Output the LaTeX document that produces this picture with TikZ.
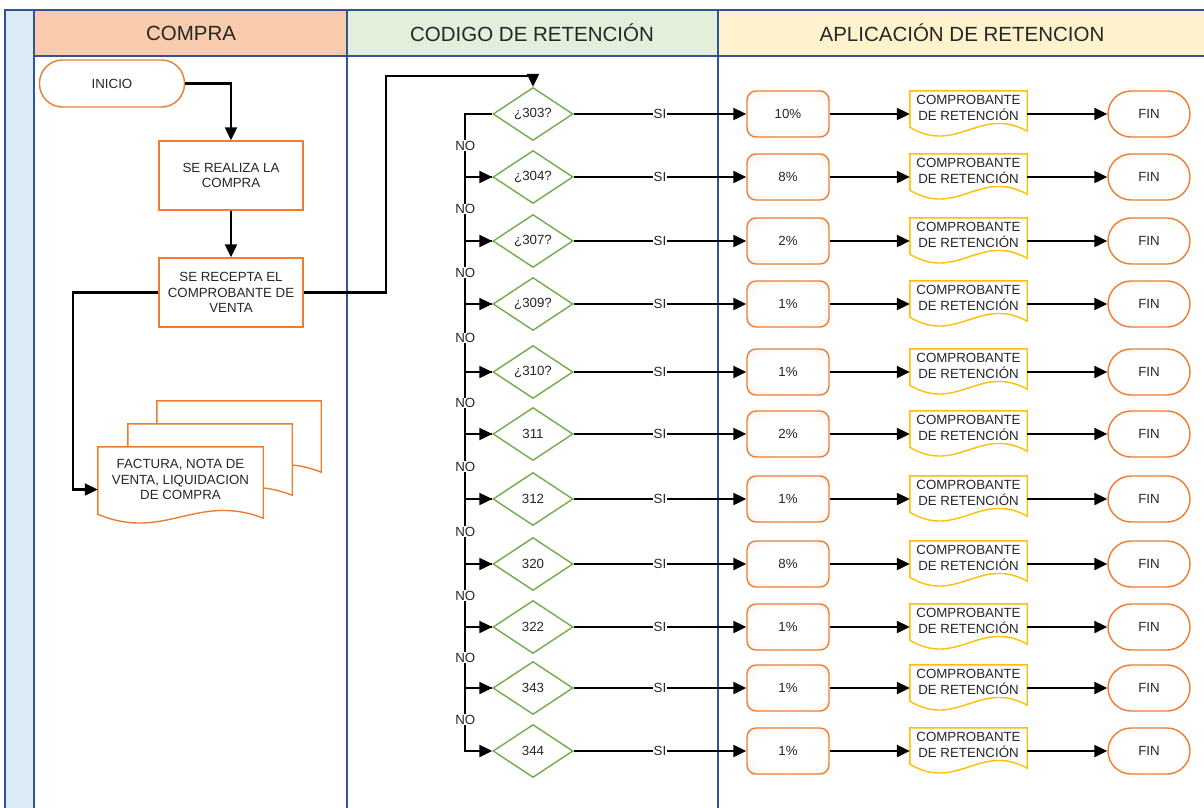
\documentclass[tikz,border=0pt]{standalone}
\usepackage{fontspec}
\setmainfont{Liberation Sans}
\usetikzlibrary{positioning, calc, shapes.geometric, arrows.meta}
\definecolor{lane blue}{HTML}{2F5597}
\definecolor{strip blue}{HTML}{DDEBF7}
\definecolor{compra head}{HTML}{F8CBAD}
\definecolor{codigo head}{HTML}{E2EFDA}
\definecolor{aplica head}{HTML}{FFF2CC}
\definecolor{box orange}{HTML}{ED7D31}
\definecolor{box pink}{HTML}{FBE2D4}
\definecolor{doc yellow}{HTML}{FFC000}
\definecolor{diamond green}{HTML}{70AD47}
\pgfdeclareradialshading{soft pink}{\pgfpoint{0bp}{0bp}}{color(0bp)=(white); color(22bp)=(white); color(50bp)=(box pink); color(72bp)=(box pink)}
\tikzset{lane/.style={line width=1.2pt, lane blue}}
\tikzset{flow/.style={line width=2.2pt, -{Triangle[length=13pt, width=12pt]}}}
\tikzset{txt/.style={font=\fontsize{13.3}{15.5}\selectfont, align=center, text=black!85}}
\tikzset{headtxt/.style={font=\fontsize{20.5}{22}\selectfont, text=black!85}}
\tikzset{process/.style={txt, draw=box orange, line width=1.4pt, fill=white, minimum width=144pt, minimum height=69pt, inner sep=0}}
\tikzset{terminal/.style={txt, draw=box orange, line width=1.4pt, rounded corners=23pt, shading=soft pink, minimum width=82pt, minimum height=46pt}}
\tikzset{pctbox/.style={txt, draw=box orange, line width=1.4pt, rounded corners=9pt, shading=soft pink, minimum width=82pt, minimum height=46pt}}
\tikzset{decision/.style={txt, diamond, draw=diamond green, line width=1.4pt, fill=white, minimum width=80pt, minimum height=53pt, inner sep=0}}
\tikzset{docnode/.style={txt, fill=white, inner sep=0, minimum height=34pt}}
\tikzset{docline/.style={line width=1.4pt}}
\tikzset{lbl/.style={txt, fill=white, inner sep=0.5pt}}

% outline of a document shape round a node
\newcommand{\docwave}[2]{%
  \draw[docline, #2] ($(#1.south west)+(0,2)$) -- (#1.north west) -- (#1.north east)
    -- ($(#1.south east)+(0,6)$)
    .. controls ($(#1.south east)!0.4!(#1.south west)+(0,-20)$)
    and ($(#1.south west)!0.4!(#1.south east)+(0,30)$) .. ($(#1.south west)+(0,2)$) -- cycle;}

\begin{document}
\begin{tikzpicture}[x=1pt, y=-1pt]
\useasboundingbox (0,0) rectangle (1204,807);

% swimlanes
\draw[lane, fill=strip blue] (5,10) rectangle (34,812);
\draw[lane, fill=compra head] (34,10) rectangle (347,56);
\draw[lane, fill=codigo head] (347,10) rectangle (718,56);
\draw[lane, fill=aplica head] (718,10) rectangle (1210,56);
\draw[lane] (347,56) -- (347,812);
\draw[lane] (718,56) -- (718,812);
\node[headtxt] (head compra) at (191,33) {COMPRA};
\node[headtxt] (head codigo) at (532,33) {CODIGO DE RETENCIÓN};
\node[headtxt] (head aplica) at (962,33) {APLICACIÓN DE RETENCION};

% compra
\node[txt, draw=box orange, line width=1.4pt, rounded corners=23pt, fill=white, minimum width=145pt, minimum height=47pt] (inicio) at (112,83.5) {INICIO};
\node[process] (realiza) at (231,175.5) {SE REALIZA LA\\COMPRA};
\node[process] (recepta) at (231,292.5) {SE RECEPTA EL\\COMPROBANTE DE\\VENTA};

\node[docnode, minimum width=164pt, minimum height=65pt] (copia2) at (239,433.5) {};
\docwave{copia2}{box orange}
\node[docnode, minimum width=164pt, minimum height=65pt] (copia1) at (210,456.5) {};
\docwave{copia1}{box orange}
\node[docnode, minimum width=165pt, minimum height=65pt] (factura) at (180.5,479.5) {FACTURA, NOTA DE\\VENTA, LIQUIDACION\\DE COMPRA};
\docwave{factura}{box orange}

\draw[flow] (inicio.east) -| (realiza.north);
\draw[flow] (realiza) -- (recepta);
\draw[flow] (recepta.west) -| ([shift={(-25pt,-10pt)}]factura.west) -- ([yshift=-10pt]factura.west);

% codigos y aplicacion
\foreach \i/\y/\code/\pct in {1/114/¿303?/10, 2/177/¿304?/8, 3/241/¿307?/2, 4/304/¿309?/1,
    5/372/¿310?/1, 6/434/311/2, 7/499/312/1, 8/564/320/8, 9/627/322/1, 10/688/343/1, 11/751/344/1} {
  \node[decision] (d\i) at (533,\y) {\code};
  \node[pctbox] (p\i) at (788,\y) {\pct\%};
  \node[docnode, minimum width=117pt] (c\i) at (968.5,\y-6) {COMPROBANTE\\DE RETENCIÓN};
  \docwave{c\i}{doc yellow}
  \node[terminal] (f\i) at (1149,\y) {FIN};
  \draw[flow] (d\i.east) -- node[lbl, midway] {SI} (p\i.west);
  \draw[flow] (p\i.east) -- (p\i.east -| c\i.west);
  \draw[flow] (p\i.east -| c\i.east) -- (f\i.west);
}
\foreach \i [count=\j from 2] in {1,...,10}
  \draw[flow] (d\i.west) -| node[lbl, pos=0.75] {NO} ([xshift=-27pt]d\j.west) -- (d\j.west);

\draw[flow] (recepta.east) -- ++(82,0) |- ([yshift=11pt]d1.north) -- (d1.north);
\end{tikzpicture}
\end{document}
